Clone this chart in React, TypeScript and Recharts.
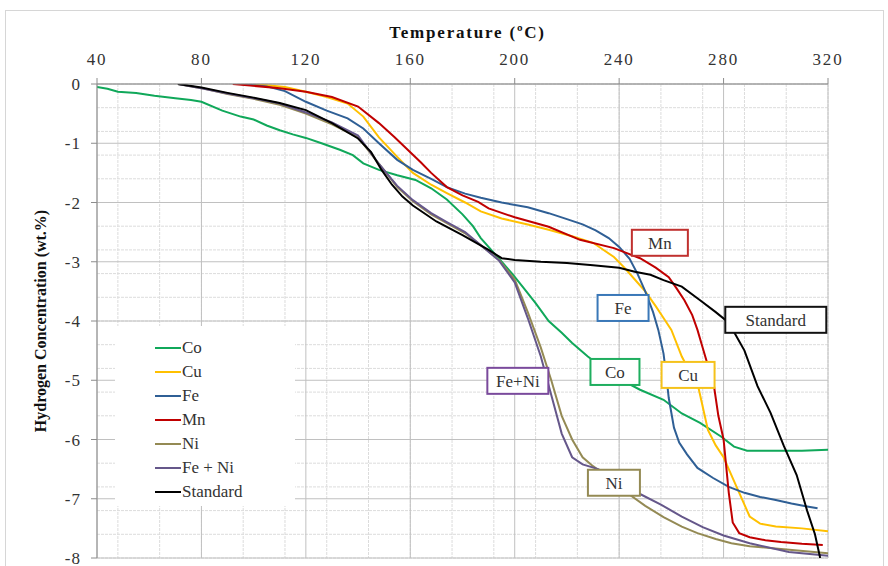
import React from "react";
import {
  LineChart,
  Line,
  XAxis,
  YAxis,
  CartesianGrid,
  Legend,
  ReferenceDot,
} from "recharts";

// temperature (°C) / hydrogen concentration (wt.%)
const coT = [40, 44, 48, 55, 62, 70, 76, 80, 88, 95, 100, 105, 110, 115, 120, 126, 133, 138, 142, 148, 155, 162, 168, 174, 180, 184, 187, 191, 195, 199, 203, 208, 213, 218, 222, 228, 234, 241, 248, 257, 264, 271, 279, 284, 289, 300, 310, 321];
const coH = [-0.05, -0.08, -0.13, -0.15, -0.2, -0.24, -0.27, -0.3, -0.45, -0.55, -0.6, -0.7, -0.78, -0.85, -0.91, -1.0, -1.11, -1.2, -1.34, -1.45, -1.54, -1.62, -1.76, -1.95, -2.2, -2.4, -2.6, -2.8, -3.0, -3.2, -3.42, -3.7, -4.0, -4.2, -4.37, -4.6, -4.8, -5.0, -5.16, -5.33, -5.56, -5.72, -5.95, -6.12, -6.19, -6.19, -6.19, -6.17];

const cuT = [100, 112, 120, 128, 136, 142, 148, 155, 161, 168, 174, 181, 187, 195, 205, 213, 222, 230, 238, 242, 246, 250, 254, 257, 260, 264, 267, 270, 274, 277, 280, 283, 286, 290, 294, 300, 310, 320];
const cuH = [0, -0.05, -0.13, -0.22, -0.33, -0.55, -0.9, -1.23, -1.5, -1.7, -1.84, -2.0, -2.15, -2.27, -2.37, -2.46, -2.57, -2.68, -2.92, -3.1, -3.3, -3.5, -3.75, -3.95, -4.15, -4.6, -4.85, -5.05, -5.84, -6.1, -6.3, -6.6, -6.9, -7.3, -7.42, -7.47, -7.5, -7.55];

const feT = [95, 105, 112, 120, 128, 136, 142, 148, 155, 161, 168, 174, 181, 187, 195, 205, 213, 220, 226, 231, 236, 240, 244, 247, 250, 253, 255, 257, 258, 259, 261, 263, 266, 270, 276, 282, 288, 294, 300, 306, 312, 316];
const feH = [0, -0.04, -0.12, -0.3, -0.45, -0.58, -0.75, -1.0, -1.28, -1.45, -1.6, -1.74, -1.85, -1.92, -2.0, -2.08, -2.18, -2.28, -2.37, -2.47, -2.6, -2.75, -2.95, -3.2, -3.5, -3.85, -4.15, -4.55, -4.9, -5.3, -5.8, -6.05, -6.25, -6.48, -6.65, -6.8, -6.9, -6.97, -7.02, -7.08, -7.13, -7.16];

const mnT = [92, 110, 120, 130, 140, 148, 154, 159, 164, 168, 174, 180, 186, 190, 200, 213, 225, 238, 248, 254, 259, 262, 265, 268, 270, 272, 274, 276, 278, 280, 282, 283.5, 286, 290, 296, 302, 310, 318];
const mnH = [0, -0.07, -0.13, -0.22, -0.38, -0.66, -0.9, -1.11, -1.32, -1.5, -1.74, -1.88, -1.99, -2.1, -2.25, -2.41, -2.63, -2.77, -2.94, -3.1, -3.26, -3.45, -3.65, -3.9, -4.15, -4.45, -4.75, -5.0, -5.6, -6.0, -6.9, -7.4, -7.58, -7.65, -7.7, -7.73, -7.76, -7.78];

const niT = [71, 80, 90, 100, 110, 120, 130, 140, 148, 155, 161, 168, 174, 181, 187, 194, 200, 205, 210, 214, 218, 222, 226, 230, 236, 243, 250, 257, 264, 270, 277, 283, 290, 302, 320];
const niH = [0, -0.07, -0.17, -0.25, -0.35, -0.5, -0.68, -0.9, -1.35, -1.74, -1.98, -2.2, -2.35, -2.52, -2.72, -2.97, -3.3, -3.85, -4.45, -5.0, -5.6, -6.0, -6.3, -6.45, -6.65, -6.9, -7.12, -7.31, -7.47, -7.58, -7.68, -7.75, -7.8, -7.85, -7.92];

const feNiT = [71, 80, 90, 100, 110, 120, 130, 140, 148, 155, 161, 168, 174, 181, 187, 194, 200, 205, 210, 214, 218, 222, 226, 232, 240, 248, 256, 264, 272, 280, 290, 305, 320];
const feNiH = [0, -0.07, -0.16, -0.24, -0.33, -0.48, -0.65, -0.87, -1.35, -1.72, -1.96, -2.18, -2.33, -2.5, -2.72, -2.98, -3.35, -3.95, -4.6, -5.25, -5.9, -6.3, -6.42, -6.5, -6.72, -6.92, -7.1, -7.3, -7.48, -7.62, -7.75, -7.9, -7.96];

const stdT = [71, 80, 90, 100, 110, 120, 130, 140, 145, 149, 153, 157, 161, 170, 180, 190, 195, 200, 210, 220, 230, 240, 246, 252, 257, 264, 271, 277, 282, 288, 293, 298, 303, 308, 312, 315, 317];
const stdH = [0, -0.06, -0.15, -0.23, -0.32, -0.44, -0.66, -0.92, -1.15, -1.45, -1.7, -1.9, -2.05, -2.32, -2.55, -2.8, -2.94, -2.97, -3.0, -3.02, -3.06, -3.1, -3.17, -3.22, -3.31, -3.42, -3.65, -3.85, -4.03, -4.5, -5.1, -5.55, -6.1, -6.6, -7.2, -7.6, -8.0];

const xTicks = [40, 80, 120, 160, 200, 240, 280, 320];
const yTicks = [0, -1, -2, -3, -4, -5, -6, -7, -8];

// annotation boxes: label, temperature, concentration
const noteLabels = ["Mn", "Fe", "Standard", "Co", "Cu", "Fe+Ni", "Ni"];
const noteT = [255.6, 241.5, 300, 238.4, 266.4, 201.2, 238];
const noteH = [-2.68, -3.78, -3.98, -4.86, -4.91, -5.01, -6.73];
const noteColors = ["#c0312f", "#3a78b8", "#111111", "#1fae5f", "#f5c21b", "#7a4a9c", "#948a54"];
const noteWidths = [56, 51, 101, 49, 53, 61, 52];

const series = [
  { name: "Co", t: coT, h: coH, color: "#10a85a" },
  { name: "Cu", t: cuT, h: cuH, color: "#ffc000" },
  { name: "Fe", t: feT, h: feH, color: "#2f5f95" },
  { name: "Mn", t: mnT, h: mnH, color: "#c00000" },
  { name: "Ni", t: niT, h: niH, color: "#948a54" },
  { name: "Fe + Ni", t: feNiT, h: feNiH, color: "#65578a" },
  { name: "Standard", t: stdT, h: stdH, color: "#000000" },
];

const minorX: number[] = [];
for (let v = 40; v <= 320; v += 8) minorX.push(v);
const minorY: number[] = [];
for (let i = 0; i <= 40; i++) minorY.push(-i / 5);

const FONT = "Liberation Serif, DejaVu Serif, Noto Serif, Times New Roman, serif";

function NoteBox(props: any) {
  const { cx, cy, label, color, w } = props;
  if (cx == null || cy == null) return null;
  const h = 26;
  return (
    <g>
      <rect x={cx - w / 2} y={cy - h / 2} width={w} height={h} fill="#fff" stroke={color} strokeWidth={2} />
      <text x={cx} y={cy + 6} textAnchor="middle" style={{ fontFamily: FONT }} fontSize={17} fill="#333">
        {label}
      </text>
    </g>
  );
}

function LegendBox() {
  return (
    <div style={{ background: "#fff", width: 180, height: 180, paddingTop: 10, boxSizing: "border-box" }}>
      {series.map((s) => (
        <div key={s.name} style={{ display: "flex", alignItems: "center", height: 24, fontFamily: FONT, fontSize: 17, color: "#333" }}>
          <span style={{ display: "inline-block", width: 26, height: 2, background: s.color, marginLeft: 40 }} />
          <span style={{ marginLeft: 1 }}>{s.name}</span>
        </div>
      ))}
    </div>
  );
}

export default function App() {
  return (
    <div style={{ position: "absolute", left: 0, top: 0, width: 888, height: 566, overflow: "hidden", background: "#fff", fontFamily: FONT }}>
      <div style={{ position: "absolute", left: 5, top: 10, width: 877, height: 600, border: "1px solid #d6d6d6" }} />
      <div style={{ position: "absolute", left: 0, top: 0 }}>
        <LineChart width={888} height={600} margin={{ top: 44, right: 60, bottom: 42, left: 36 }} style={{ fontFamily: FONT }}>
          <CartesianGrid stroke="#dcdcdc" strokeDasharray="3 1" verticalValues={minorX} horizontalValues={minorY} />
          <CartesianGrid stroke="#c0c0c0" verticalValues={xTicks} horizontalValues={yTicks} />
          <XAxis
            type="number"
            dataKey="t"
            orientation="top"
            domain={[40, 320]}
            ticks={xTicks}
            allowDataOverflow
            height={40}
            tickSize={6}
            tickMargin={13}
            stroke="#8c8c8c"
            tick={{ fontFamily: FONT, fontSize: 17, fill: "#333", letterSpacing: 1.8 }}
            label={{
              value: "Temperature (ºC)",
              position: "top",
              offset: 6,
              dx: 5,
              style: { fontFamily: FONT, fontSize: 17, fontWeight: "bold", fill: "#111", letterSpacing: 1.8 },
            }}
          />
          <YAxis
            type="number"
            domain={[-8, 0]}
            ticks={yTicks}
            allowDataOverflow
            width={61}
            tickSize={6}
            tickMargin={10}
            stroke="#8c8c8c"
            tick={{ fontFamily: FONT, fontSize: 17, fill: "#333", letterSpacing: 1 }}
            label={{
              value: "Hydrogen Concentration (wt.%)",
              angle: -90,
              position: "insideLeft",
              offset: 4,
              style: { textAnchor: "middle", fontFamily: FONT, fontSize: 16, fontWeight: "bold", fill: "#111" },
            }}
          />
          <Legend
            layout="vertical"
            align="center"
            verticalAlign="middle"
            content={() => <LegendBox />}
            wrapperStyle={{ left: 115, top: 326, width: 180, height: 180 }}
          />
          {series.map((s) => (
            <Line
              key={s.name}
              name={s.name}
              data={s.t.map((t, i) => ({ t, h: s.h[i] }))}
              dataKey="h"
              type="linear"
              stroke={s.color}
              strokeWidth={2}
              dot={false}
              activeDot={false}
              isAnimationActive={false}
            />
          ))}
          {noteLabels.map((label, i) => (
            <ReferenceDot
              key={label}
              x={noteT[i]}
              y={noteH[i]}
              r={1}
              ifOverflow="visible"
              zIndex={1500}
              shape={(p: any) => <NoteBox cx={p.cx} cy={p.cy} label={label} color={noteColors[i]} w={noteWidths[i]} />}
            />
          ))}
        </LineChart>
      </div>
    </div>
  );
}
